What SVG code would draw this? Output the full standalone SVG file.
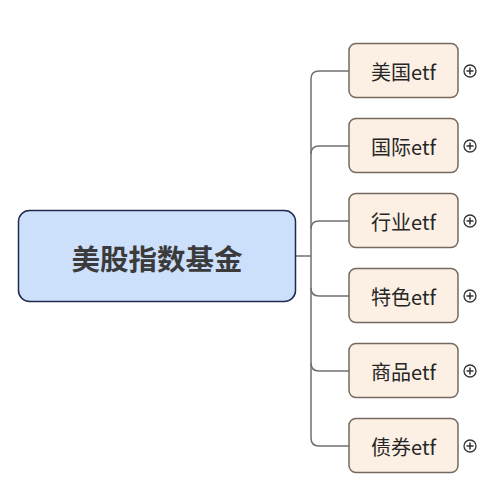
<svg xmlns="http://www.w3.org/2000/svg" width="502" height="500" viewBox="0 0 502 500">
<style>
.conn{fill:none;stroke:#707070;stroke-width:1.5}
.child{fill:#fcf0e4;stroke:#76695e;stroke-width:1.5}
.ct{font-family:"Noto Sans CJK SC","Noto Sans",sans-serif;font-size:20px;fill:#262626;text-anchor:middle;dominant-baseline:central}
.plus{fill:#fff;stroke:#333;stroke-width:1.3}
.pl{stroke:#333;stroke-width:1.5}
</style>
<rect width="502" height="500" fill="#fff"/>
<g id="connectors">
<path class="conn" d="M295,256 H311"/>
<path class="conn" d="M349,71 H319 Q311,71 311,79 V438 Q311,446 319,446 H349"/>
<path class="conn" d="M349,146 H319 Q311,146 311,154"/>
<path class="conn" d="M349,221 H319 Q311,221 311,229"/>
<path class="conn" d="M311,288 Q311,296 319,296 H349"/>
<path class="conn" d="M311,363 Q311,371 319,371 H349"/>
</g>
<g id="root">
<rect x="18.5" y="210.5" width="277" height="91" rx="11" fill="#cde0fb" stroke="#1e2a4e" stroke-width="1.5"/>
<text x="157" y="257" font-family="'Noto Sans CJK SC','Noto Sans',sans-serif" font-size="28.5" font-weight="bold" fill="#3b3b3b" text-anchor="middle" dominant-baseline="central">美股指数基金</text>
</g>
<g id="n1"><rect class="child" x="349" y="43.5" width="109" height="54" rx="7"/><text class="ct" x="403.5" y="71">美国etf</text><circle class="plus" cx="470" cy="71" r="6"/><path class="pl" d="M466.5,71 H473.5 M470,67.5 V74.5"/></g>
<g id="n2"><rect class="child" x="349" y="118.5" width="109" height="54" rx="7"/><text class="ct" x="403.5" y="146">国际etf</text><circle class="plus" cx="470" cy="146" r="6"/><path class="pl" d="M466.5,146 H473.5 M470,142.5 V149.5"/></g>
<g id="n3"><rect class="child" x="349" y="193.5" width="109" height="54" rx="7"/><text class="ct" x="403.5" y="221">行业etf</text><circle class="plus" cx="470" cy="221" r="6"/><path class="pl" d="M466.5,221 H473.5 M470,217.5 V224.5"/></g>
<g id="n4"><rect class="child" x="349" y="268.5" width="109" height="54" rx="7"/><text class="ct" x="403.5" y="296">特色etf</text><circle class="plus" cx="470" cy="296" r="6"/><path class="pl" d="M466.5,296 H473.5 M470,292.5 V299.5"/></g>
<g id="n5"><rect class="child" x="349" y="343.5" width="109" height="54" rx="7"/><text class="ct" x="403.5" y="371">商品etf</text><circle class="plus" cx="470" cy="371" r="6"/><path class="pl" d="M466.5,371 H473.5 M470,367.5 V374.5"/></g>
<g id="n6"><rect class="child" x="349" y="418.5" width="109" height="54" rx="7"/><text class="ct" x="403.5" y="446">债券etf</text><circle class="plus" cx="470" cy="446" r="6"/><path class="pl" d="M466.5,446 H473.5 M470,442.5 V449.5"/></g>
</svg>
